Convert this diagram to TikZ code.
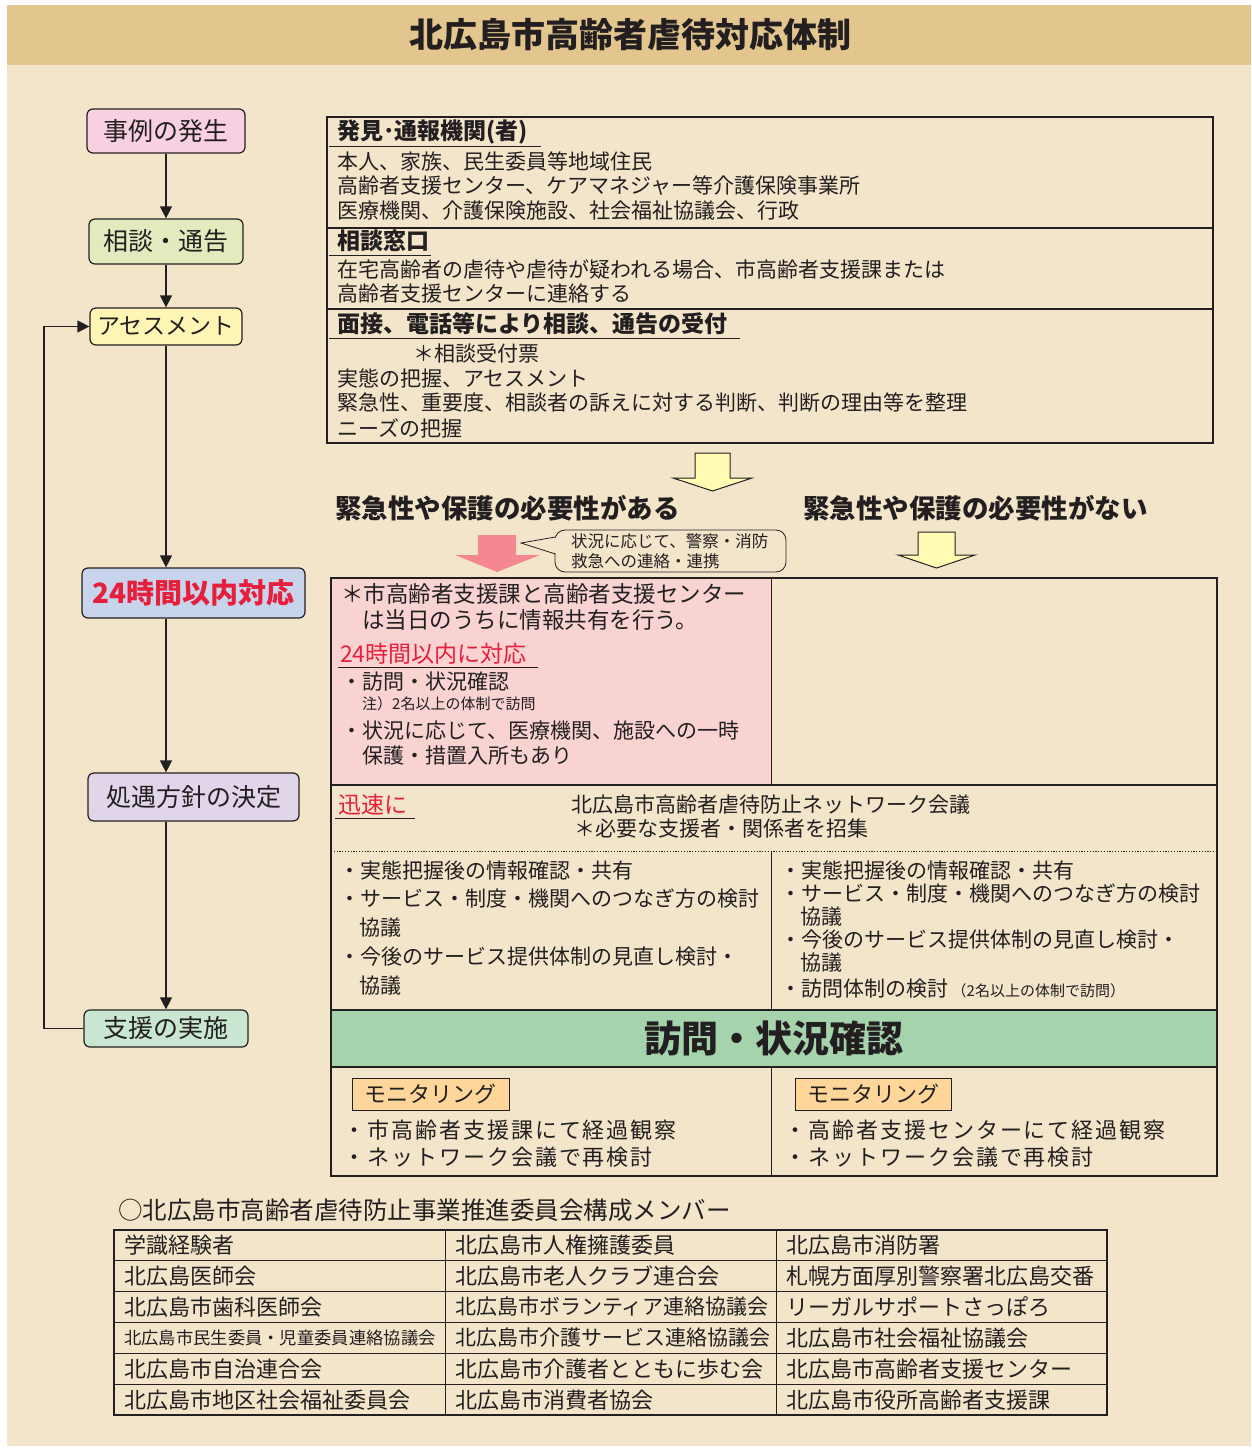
\documentclass[tikz,border=0pt]{standalone}
\usepackage{fontspec}
\setmainfont{Noto Sans CJK JP}
\usetikzlibrary{arrows.meta}
\definecolor{band}{HTML}{E3C68D}
\definecolor{bg}{HTML}{F2E5CA}
\definecolor{lc}{HTML}{231F20}
\definecolor{redt}{HTML}{E61F3C}
\definecolor{pinkbox}{HTML}{F9D2D2}
\definecolor{greenband}{HTML}{A5D4AC}
\definecolor{pinkarr}{HTML}{F4878F}
\definecolor{ylw}{HTML}{FFFBB3}
\definecolor{fa}{HTML}{F8D0E1}
\definecolor{fb}{HTML}{E3EBBE}
\definecolor{fc}{HTML}{FFF5B5}
\definecolor{fd}{HTML}{C8D4EC}
\definecolor{fe}{HTML}{E1D5EA}
\definecolor{ff}{HTML}{C8E6D0}
\definecolor{mon}{HTML}{FFD699}
\newcommand\fsz[2]{\fontsize{#1}{#2}\selectfont}
\begin{document}
\begin{tikzpicture}[x=1pt,y=-1pt,
  ln/.style={draw=lc, line width=1.1pt},
  thinln/.style={draw=lc, line width=0.8pt},
  flow/.style={draw=lc, line width=1.2pt, rounded corners=6pt, inner sep=0pt, text=lc, font=\fsz{25}{30}},
  t/.style={anchor=west, inner sep=0pt, text=lc},
  bd/.style={font=\fsz{21}{25}},
  hd/.style={font=\bfseries\fsz{23}{27}},
  sp/.style={font=\fsz{22}{26}\addfontfeatures{LetterSpace=9}},
  arr/.style={draw=lc, line width=1.2pt, -{Triangle[width=12pt,length=12pt]}},
]
% background
\fill[white] (0,0) rectangle (1251,1448);
\fill[bg] (7,65) rectangle (1251,1446);
\fill[band] (7,5) rectangle (1251,65);
\node[inner sep=0pt, text=lc, font=\bfseries\fsz{34}{40}] (title) at (630,35) {北広島市高齢者虐待対応体制};

% left flow
\node[flow, fill=fa, minimum width=158pt, minimum height=44pt] (e1) at (166,131) {事例の発生};
\node[flow, fill=fb, minimum width=154pt, minimum height=45pt] (e2) at (166,241.5) {相談・通告};
\node[flow, fill=fc, minimum width=152pt, minimum height=37pt, font=\fsz{23}{28}] (e3) at (166,326.5) {アセスメント};
\node[flow, fill=fd, minimum width=223pt, minimum height=50pt, text=redt, font=\bfseries\fsz{28}{32}] (e4) at (193.5,593) {24時間以内対応};
\node[flow, fill=fe, minimum width=211pt, minimum height=48pt] (e5) at (193.5,797) {処遇方針の決定};
\node[flow, fill=ff, minimum width=164pt, minimum height=37pt] (e6) at (166,1028.5) {支援の実施};
\draw[arr] (e1.south) -- (e2.north);
\draw[arr] (e2.south) -- (e3.north);
\draw[arr] (e3.south) -- (e3.south |- e4.north);
\draw[arr] (e3.south |- e4.south) -- (e3.south |- e5.north);
\draw[arr] (e3.south |- e5.south) -- (e6.north);
\coordinate (fb1) at (44,1028.5);
\coordinate (fb2) at (44,326.5);
\draw[arr] (e6.west) -- (fb1) -- (fb2) -- (e3.west);

% top box
\draw[ln] (327,117) rectangle (1213,443);
\draw[ln] (327,228) -- (1213,228);
\draw[ln] (327,309) -- (1213,309);
\node[t,hd] (h1) at (337,132) {発見･通報機関(者)};
\draw[thinln] (329,146) -- (541,146);
\node[t,bd] (l11) at (337,161) {本人、家族、民生委員等地域住民};
\node[t,bd] (l12) at (337,186) {高齢者支援センター、ケアマネジャー等介護保険事業所};
\node[t,bd] (l13) at (337,211) {医療機関、介護保険施設、社会福祉協議会、行政};
\node[t,hd] (h2) at (337,241) {相談窓口};
\draw[thinln] (329,255) -- (431,255);
\node[t,bd] (l21) at (337,269) {在宅高齢者の虐待や虐待が疑われる場合、市高齢者支援課または};
\node[t,bd] (l22) at (337,294) {高齢者支援センターに連絡する};
\node[t,hd] (h3) at (337,324) {面接、電話等により相談、通告の受付};
\draw[thinln] (329,338) -- (740,338);
\node[t,bd] (l31) at (413,353) {＊相談受付票};
\node[t,bd] (l32) at (337,378) {実態の把握、アセスメント};
\node[t,bd] (l33) at (337,403) {緊急性、重要度、相談者の訴えに対する判断、判断の理由等を整理};
\node[t,bd] (l34) at (337,428) {ニーズの把握};

% hollow arrows
\draw[ln, fill=ylw, line width=1pt] (695,453) -- (730,453) -- (730,478) -- (752,478) -- (712.5,491) -- (673,478) -- (695,478) -- cycle;
\node[t, font=\bfseries\fsz{26.5}{30}] (k1) at (335,508) {緊急性や保護の必要性がある};
\node[t, font=\bfseries\fsz{26.5}{30}] (k2) at (803,508) {緊急性や保護の必要性がない};
\fill[pinkarr] (478,535) -- (516,535) -- (516,555) -- (540,555) -- (497,572) -- (455,555) -- (478,555) -- cycle;
\draw[ln, fill=ylw, line width=1pt] (918,532) -- (955,532) -- (955,555) -- (975,555) -- (936.5,568) -- (898,555) -- (918,555) -- cycle;

% callout
\draw[thinln, fill=bg, rounded corners=10pt] (555,530) rectangle (786,572);
\fill[bg] (557,537.5) -- (521,543) -- (557,553.5) -- cycle;
\draw[thinln] (555.4,537) -- (521,543) -- (555.4,554);
\node[t, font=\fsz{16.5}{20}] (b1) at (571,541) {状況に応じて、警察・消防};
\node[t, font=\fsz{16.5}{20}] (b2) at (571,561) {救急への連絡・連携};

% main box
\fill[pinkbox] (331,578) rectangle (771,785);
\fill[greenband] (331,1010) rectangle (1217,1067);
\draw[ln] (331,578) rectangle (1217,1176);
\draw[thinln] (771,578) -- (771,785);
\draw[ln] (331,785) -- (1217,785);
\draw[draw=lc, line width=1pt, dash pattern=on 1.2pt off 1.6pt] (331,851) -- (1217,851);
\draw[thinln] (771,851) -- (771,1010);
\draw[ln] (331,1010) -- (1217,1010);
\draw[ln] (331,1067) -- (1217,1067);
\draw[thinln] (771,1067) -- (771,1176);

% pink content
\node[t, font=\fsz{22.5}{27}] (p1) at (341,594) {＊市高齢者支援課と高齢者支援センター};
\node[t, font=\fsz{22.5}{27}] (p2) at (362,620) {は当日のうちに情報共有を行う。};
\node[t, text=redt, font=\fsz{23}{27}] (p3) at (340,654) {24時間以内に対応};
\draw[thinln] (338,667.5) -- (538,667.5);
\node[t, bd] (p4) at (341,682) {・訪問・状況確認};
\node[t, font=\fsz{15}{18}] (p5) at (362,704) {注）2名以上の体制で訪問};
\node[t, bd] (p6) at (341,731) {・状況に応じて、医療機関、施設への一時};
\node[t, bd] (p7) at (362,756) {保護・措置入所もあり};

% network meeting
\node[t, text=redt, font=\fsz{23}{27}] (q1) at (338,805) {迅速に};
\draw[thinln] (335,818.5) -- (415,818.5);
\node[t, bd] (q2) at (571,805) {北広島市高齢者虐待防止ネットワーク会議};
\node[t, bd] (q3) at (574,829) {＊必要な支援者・関係者を招集};

\node[t, bd] (r1) at (339,870) {・実態把握後の情報確認・共有};
\node[t, bd] (r2) at (339,899) {・サービス・制度・機関へのつなぎ方の検討};
\node[t, bd] (r3) at (359,928) {協議};
\node[t, bd] (r4) at (339,957) {・今後のサービス提供体制の見直し検討・};
\node[t, bd] (r5) at (359,986) {協議};

\node[t, bd] (s1) at (780,870) {・実態把握後の情報確認・共有};
\node[t, bd] (s2) at (780,894) {・サービス・制度・機関へのつなぎ方の検討};
\node[t, bd] (s3) at (800,917) {協議};
\node[t, bd] (s4) at (780,940) {・今後のサービス提供体制の見直し検討・};
\node[t, bd] (s5) at (800,963) {協議};
\node[t, bd] (s6) at (780,989) {・訪問体制の検討\,{\fsz{15}{18}（2名以上の体制で訪問）}};

% green band
\node[inner sep=0pt, text=lc, font=\bfseries\fsz{37}{42}] (g) at (774,1038.5) {訪問・状況確認};

% monitoring
\node[draw=lc, line width=1pt, fill=mon, minimum width=157pt, minimum height=32pt, inner sep=0pt, text=lc, font=\fsz{22}{26}] (m1) at (430.5,1094) {モニタリング};
\node[draw=lc, line width=1pt, fill=mon, minimum width=156pt, minimum height=32pt, inner sep=0pt, text=lc, font=\fsz{22}{26}] (m2) at (873,1094) {モニタリング};
\node[t, sp] (m11) at (343,1130) {・市高齢者支援課にて経過観察};
\node[t, sp] (m12) at (343,1157) {・ネットワーク会議で再検討};
\node[t, sp] (m21) at (784,1130) {・高齢者支援センターにて経過観察};
\node[t, sp] (m22) at (784,1157) {・ネットワーク会議で再検討};

% member table
\node[t, font=\fsz{24.5}{28}] (tt) at (118,1210) {○北広島市高齢者虐待防止事業推進委員会構成メンバー};
\draw[ln] (114,1230) rectangle (1107,1415);
\foreach \yy in {1260.5,1291.5,1322.5,1353.5,1384.5} \draw[thinln] (114,\yy) -- (1107,\yy);
\draw[thinln] (445,1230) -- (445,1415);
\draw[thinln] (776,1230) -- (776,1415);
\tikzset{tc/.style={t, font=\fsz{22}{26}}}
\node[tc] (a1) at (124,1245) {学識経験者};
\node[tc] (a2) at (124,1276) {北広島医師会};
\node[tc] (a3) at (124,1307) {北広島市歯科医師会};
\node[t, font=\fsz{17.3}{21}] (a4) at (124,1338) {北広島市民生委員・児童委員連絡協議会};
\node[tc] (a5) at (124,1369) {北広島市自治連合会};
\node[tc] (a6) at (124,1400) {北広島市地区社会福祉委員会};
\node[tc] (b1x) at (455,1245) {北広島市人権擁護委員};
\node[tc] (b2x) at (455,1276) {北広島市老人クラブ連合会};
\node[t, font=\fsz{21}{25}] (b3x) at (455,1307) {北広島市ボランティア連絡協議会};
\node[t, font=\fsz{21}{25}] (b4x) at (455,1338) {北広島市介護サービス連絡協議会};
\node[tc] (b5x) at (455,1369) {北広島市介護者とともに歩む会};
\node[tc] (b6x) at (455,1400) {北広島市消費者協会};
\node[tc] (c1) at (786,1245) {北広島市消防署};
\node[tc] (c2) at (786,1276) {札幌方面厚別警察署北広島交番};
\node[tc] (c3) at (786,1307) {リーガルサポートさっぽろ};
\node[tc] (c4) at (786,1338) {北広島市社会福祉協議会};
\node[tc] (c5) at (786,1369) {北広島市高齢者支援センター};
\node[tc] (c6) at (786,1400) {北広島市役所高齢者支援課};
\end{tikzpicture}
\end{document}
